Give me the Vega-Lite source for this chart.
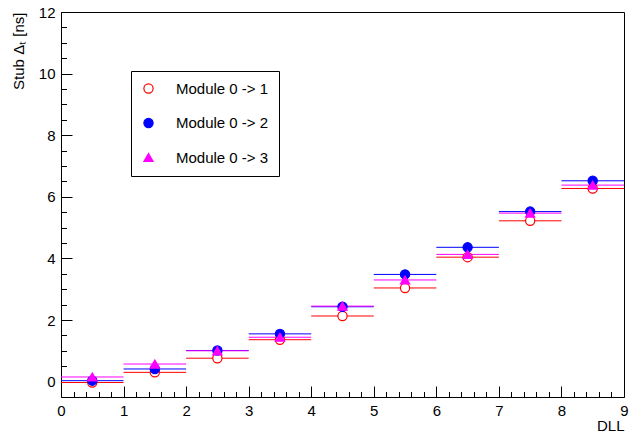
{
  "$schema": "https://vega.github.io/schema/vega-lite/v6.json",
  "width": 563,
  "height": 385,
  "autosize": {"type": "none"},
  "padding": {"left": 61, "top": 12, "right": 5, "bottom": 37},
  "background": "white",
  "config": {
    "view": {"stroke": "black", "strokeWidth": 1},
    "font": "Liberation Sans",
    "axis": {"labelColor": "black", "titleColor": "black", "labelFont": "Liberation Sans", "titleFont": "Liberation Sans", "zindex": 1}
  },
  "data": {
    "values": [
      {"series": "Module 0 -> 1", "dll": 0.5, "lo": 0, "hi": 1, "dt": -0.03},
      {"series": "Module 0 -> 1", "dll": 1.5, "lo": 1, "hi": 2, "dt": 0.30},
      {"series": "Module 0 -> 1", "dll": 2.5, "lo": 2, "hi": 3, "dt": 0.76},
      {"series": "Module 0 -> 1", "dll": 3.5, "lo": 3, "hi": 4, "dt": 1.36},
      {"series": "Module 0 -> 1", "dll": 4.5, "lo": 4, "hi": 5, "dt": 2.13},
      {"series": "Module 0 -> 1", "dll": 5.5, "lo": 5, "hi": 6, "dt": 3.04},
      {"series": "Module 0 -> 1", "dll": 6.5, "lo": 6, "hi": 7, "dt": 4.04},
      {"series": "Module 0 -> 1", "dll": 7.5, "lo": 7, "hi": 8, "dt": 5.22},
      {"series": "Module 0 -> 1", "dll": 8.5, "lo": 8, "hi": 9, "dt": 6.27},
      {"series": "Module 0 -> 2", "dll": 0.5, "lo": 0, "hi": 1, "dt": 0.03},
      {"series": "Module 0 -> 2", "dll": 1.5, "lo": 1, "hi": 2, "dt": 0.41},
      {"series": "Module 0 -> 2", "dll": 2.5, "lo": 2, "hi": 3, "dt": 1.01},
      {"series": "Module 0 -> 2", "dll": 3.5, "lo": 3, "hi": 4, "dt": 1.55},
      {"series": "Module 0 -> 2", "dll": 4.5, "lo": 4, "hi": 5, "dt": 2.43},
      {"series": "Module 0 -> 2", "dll": 5.5, "lo": 5, "hi": 6, "dt": 3.48},
      {"series": "Module 0 -> 2", "dll": 6.5, "lo": 6, "hi": 7, "dt": 4.36},
      {"series": "Module 0 -> 2", "dll": 7.5, "lo": 7, "hi": 8, "dt": 5.52},
      {"series": "Module 0 -> 2", "dll": 8.5, "lo": 8, "hi": 9, "dt": 6.52},
      {"series": "Module 0 -> 3", "dll": 0.5, "lo": 0, "hi": 1, "dt": 0.15},
      {"series": "Module 0 -> 3", "dll": 1.5, "lo": 1, "hi": 2, "dt": 0.57},
      {"series": "Module 0 -> 3", "dll": 2.5, "lo": 2, "hi": 3, "dt": 1.00},
      {"series": "Module 0 -> 3", "dll": 3.5, "lo": 3, "hi": 4, "dt": 1.44},
      {"series": "Module 0 -> 3", "dll": 4.5, "lo": 4, "hi": 5, "dt": 2.45},
      {"series": "Module 0 -> 3", "dll": 5.5, "lo": 5, "hi": 6, "dt": 3.30},
      {"series": "Module 0 -> 3", "dll": 6.5, "lo": 6, "hi": 7, "dt": 4.13},
      {"series": "Module 0 -> 3", "dll": 7.5, "lo": 7, "hi": 8, "dt": 5.47},
      {"series": "Module 0 -> 3", "dll": 8.5, "lo": 8, "hi": 9, "dt": 6.38}
    ]
  },
  "layer": [
    {
      "mark": {"type": "point", "filled": false, "size": 85, "strokeWidth": 1.2, "opacity": 0},
      "encoding": {
        "x": {
          "field": "dll", "type": "quantitative",
          "scale": {"domain": [0, 9], "nice": false, "zero": false},
          "axis": {
            "orient": "bottom", "values": [0, 1, 2, 3, 4, 5, 6, 7, 8, 9],
            "offset": -11, "ticks": true, "tickSize": 11, "tickWidth": 1, "tickColor": "#000000", "tickOpacity": 1,
            "domain": false, "grid": false,
            "labelFontSize": 15, "labelPadding": 6, "labelFlush": false,
            "title": "DLL", "titleAnchor": "end", "titleFontSize": 15,
            "titleFontWeight": "normal", "titlePadding": 0
          }
        },
        "y": {
          "field": "dt", "type": "quantitative",
          "scale": {"domain": [-0.5, 12], "nice": false, "zero": false},
          "axis": {
            "orient": "left", "values": [0, 2, 4, 6, 8, 10, 12],
            "offset": -11, "ticks": true, "tickSize": 11, "tickWidth": 1, "tickColor": "#000000", "tickOpacity": 1,
            "domain": false, "grid": false,
            "labelFontSize": 15, "labelPadding": 6, "labelFlush": false,
            "title": "Stub Δₜ [ns]", "titleAnchor": "end", "titleFontSize": 15,
            "titleFontWeight": "normal", "titlePadding": 12
          }
        },
        "color": {
          "field": "series", "type": "nominal",
          "scale": {"domain": ["Module 0 -> 1", "Module 0 -> 2", "Module 0 -> 3"], "range": ["#ff0000", "#0000ff", "#ff00ff"]},
          "legend": {
            "title": null, "orient": "none", "legendX": 70, "legendY": 59,
            "strokeColor": "black", "fillColor": "white", "padding": 10,
            "rowPadding": 18.5, "symbolSize": 85, "symbolStrokeWidth": 1.2,
            "symbolOpacity": 1,
            "labelFontSize": 15, "labelFont": "Liberation Sans", "labelColor": "black",
            "labelOffset": 20, "labelExpr": "datum.label + '           '"
          }
        },
        "fill": {
          "field": "series", "type": "nominal", "legend": null,
          "scale": {"domain": ["Module 0 -> 1", "Module 0 -> 2", "Module 0 -> 3"], "range": ["#ffffff", "#0000ff", "#ff00ff"]}
        },
        "shape": {
          "field": "series", "type": "nominal", "legend": null,
          "scale": {"domain": ["Module 0 -> 1", "Module 0 -> 2", "Module 0 -> 3"], "range": ["circle", "circle", "triangle-up"]}
        }
      }
    },
    {
      "mark": {"type": "rule", "strokeWidth": 1},
      "encoding": {
        "x": {
          "field": "lo", "type": "quantitative",
          "axis": {
            "orient": "bottom", "offset": -5.5,
            "values": [0.2, 0.4, 0.6, 0.8, 1.2, 1.4, 1.6, 1.8, 2.2, 2.4, 2.6, 2.8, 3.2, 3.4, 3.6, 3.8, 4.2, 4.4, 4.6, 4.8, 5.2, 5.4, 5.6, 5.8, 6.2, 6.4, 6.6, 6.8, 7.2, 7.4, 7.6, 7.8, 8.2, 8.4, 8.6, 8.8],
            "labels": false, "domain": false, "grid": false, "title": null,
            "ticks": true, "tickWidth": 1, "tickSize": 5.5, "tickColor": "#000000", "tickOpacity": 1
          }
        },
        "x2": {"field": "hi"},
        "y": {
          "field": "dt", "type": "quantitative",
          "axis": {
            "orient": "left", "offset": -5.5,
            "values": [0.5, 1, 1.5, 2.5, 3, 3.5, 4.5, 5, 5.5, 6.5, 7, 7.5, 8.5, 9, 9.5, 10.5, 11, 11.5],
            "labels": false, "domain": false, "grid": false, "title": null,
            "ticks": true, "tickWidth": 1, "tickSize": 5.5, "tickColor": "#000000", "tickOpacity": 1
          }
        },
        "color": {"field": "series", "type": "nominal"}
      }
    },
    {
      "mark": {"type": "point", "filled": false, "size": 85, "strokeWidth": 1.2, "opacity": 1},
      "encoding": {
        "x": {"field": "dll", "type": "quantitative", "axis": null},
        "y": {"field": "dt", "type": "quantitative", "axis": null},
        "color": {"field": "series", "type": "nominal"},
        "fill": {"field": "series", "type": "nominal", "legend": null},
        "shape": {"field": "series", "type": "nominal", "legend": null}
      }
    }
  ],
  "resolve": {"axis": {"x": "independent", "y": "independent"}}
}
